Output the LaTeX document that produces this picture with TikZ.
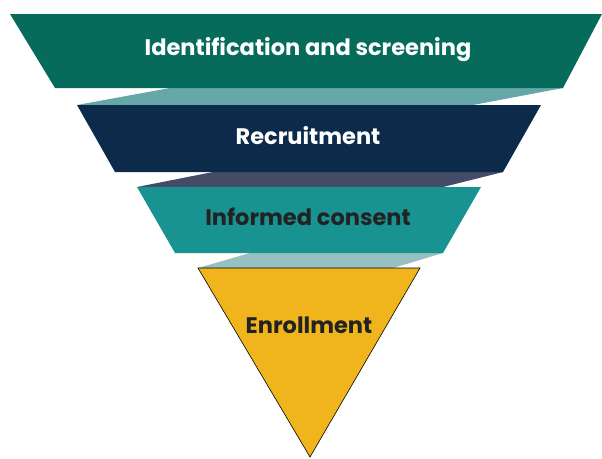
\documentclass[tikz,border=0pt]{standalone}
\usepackage{fontspec}
\setmainfont{Poppins}
\usepackage{tikz}

\definecolor{screenGreen}{HTML}{076B5B}
\definecolor{recruitNavy}{HTML}{0C2A4A}
\definecolor{consentTeal}{HTML}{189391}
\definecolor{enrollGold}{HTML}{F0B41D}
\definecolor{shadeOne}{HTML}{66A8A8}
\definecolor{shadeTwo}{HTML}{434B67}
\definecolor{shadeThree}{HTML}{96C0C1}
\definecolor{darkText}{HTML}{222222}

\begin{document}
\begin{tikzpicture}[x=1pt, y=-1pt, every node/.style={anchor=base, inner sep=0pt, font=\bfseries\fontsize{22.5}{26}\selectfont}]
			\useasboundingbox (0,0) rectangle (602,458);
			% shadows between the levels
			\fill[shadeOne] (170,88) -- (563,88) -- (473,105) -- (77,105) -- cycle;
			\fill[shadeTwo] (213,172) -- (503,172) -- (443,187) -- (137,187) -- cycle;
			\fill[shadeThree] (250,253) -- (443,253) -- (393,268) -- (198,268) -- cycle;
			% funnel levels
			\fill[screenGreen] (10,14) -- (602,14) -- (563,88) -- (55,88) -- cycle;
			\fill[recruitNavy] (77,105) -- (541,105) -- (503,172) -- (115,172) -- cycle;
			\fill[consentTeal] (137,187) -- (481,187) -- (443,253) -- (175,253) -- cycle;
			\filldraw[fill=enrollGold, draw=black, line width=0.6pt] (198,268) -- (420,268) -- (310,457) -- cycle;
			% labels
			\node[text=white] (screen) at (308,55) {Identification and screening};
			\node[text=white] (recruit) at (308,144) {Recruitment};
			\node[text=darkText] (consent) at (308,225) {Informed consent};
			\node[text=darkText] (enroll) at (309,333) {Enrollment};
		\end{tikzpicture}
\end{document}
